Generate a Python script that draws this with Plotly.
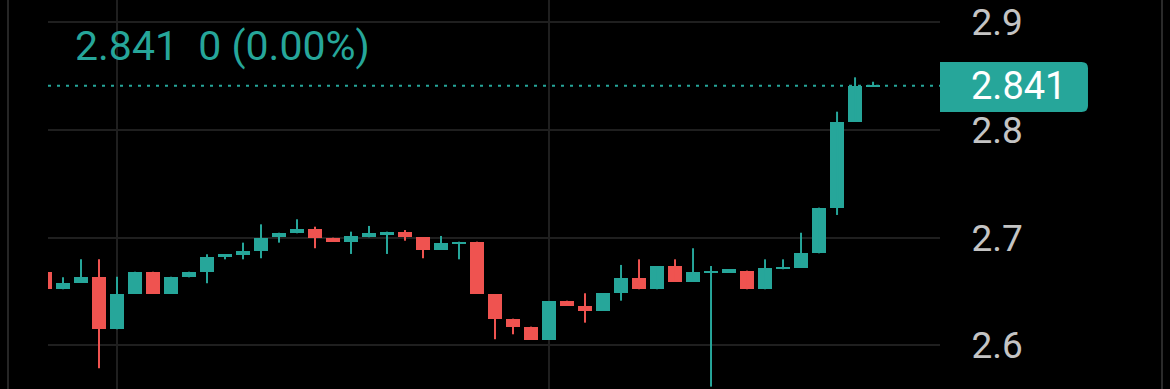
import plotly.graph_objects as go

# ---- data ----
opens = [2.6684, 2.6521, 2.6582, 2.6638, 2.6150, 2.6477, 2.6684, 2.6477, 2.6632, 2.6684,
         2.6818, 2.6839, 2.6877, 2.7004, 2.7041, 2.7078, 2.7000, 2.6963, 2.7004, 2.7025,
         2.7056, 2.7004, 2.6886, 2.6948, 2.6963, 2.6477, 2.6248, 2.6174, 2.6050, 2.6415,
         2.6366, 2.6322, 2.6484, 2.6629, 2.6521, 2.6737, 2.6591, 2.6676, 2.6676, 2.6694,
         2.6521, 2.6707, 2.6721, 2.6855, 2.7279, 2.8077, 2.8400]
highs = [2.6684, 2.6632, 2.6799, 2.6799, 2.6638, 2.6684, 2.6684, 2.6638, 2.6684, 2.6846,
         2.6846, 2.6954, 2.7124, 2.7046, 2.7171, 2.7102, 2.7000, 2.7056, 2.7109, 2.7056,
         2.7071, 2.7004, 2.7016, 2.6963, 2.6963, 2.6477, 2.6248, 2.6174, 2.6412, 2.6415,
         2.6484, 2.6484, 2.6747, 2.6799, 2.6737, 2.6799, 2.6902, 2.6737, 2.6707, 2.6694,
         2.6799, 2.6799, 2.7046, 2.7279, 2.8170, 2.8489, 2.8448]
lows = [2.6521, 2.6521, 2.6582, 2.5787, 2.6150, 2.6477, 2.6477, 2.6477, 2.6632, 2.6577,
        2.6799, 2.6799, 2.6809, 2.6954, 2.7041, 2.6902, 2.6963, 2.6849, 2.7004, 2.6849,
        2.6972, 2.6809, 2.6886, 2.6799, 2.6477, 2.6057, 2.6103, 2.6050, 2.6050, 2.6366,
        2.6211, 2.6322, 2.6415, 2.6521, 2.6521, 2.6591, 2.6591, 2.5617, 2.6676, 2.6521,
        2.6521, 2.6707, 2.6721, 2.6855, 2.7211, 2.8077, 2.8400]
closes = [2.6521, 2.6582, 2.6638, 2.6150, 2.6477, 2.6684, 2.6477, 2.6638, 2.6684, 2.6824,
          2.6846, 2.6877, 2.6994, 2.7046, 2.7078, 2.6994, 2.6963, 2.7016, 2.7041, 2.7056,
          2.7009, 2.6886, 2.6948, 2.6963, 2.6477, 2.6242, 2.6168, 2.6050, 2.6412, 2.6366,
          2.6322, 2.6484, 2.6629, 2.6521, 2.6737, 2.6591, 2.6680, 2.6694, 2.6707, 2.6521,
          2.6721, 2.6731, 2.6855, 2.7279, 2.8077, 2.8409, 2.8410]
last_price = 2.841
header_text = "2.841  0 (0.00%)"
y_ticks = [2.6, 2.7, 2.8, 2.9]
x_grid_positions = [4, 28]

UP = "#26a69a"
DOWN = "#ef5350"
GRID = "#1f1f1f"

idx = list(range(len(opens)))
colors = [UP if c >= o else DOWN for o, c in zip(opens, closes)]

fig = go.Figure()

# wicks
for col in (UP, DOWN):
    wx, wy = [], []
    for i in idx:
        if colors[i] == col:
            wx += [i, i, None]
            wy += [lows[i], highs[i], None]
    fig.add_trace(go.Scatter(x=wx, y=wy, mode="lines", line=dict(color=col, width=2),
                             hoverinfo="skip", showlegend=False))

# bodies
fig.add_trace(go.Bar(
    x=idx,
    y=[abs(c - o) for o, c in zip(opens, closes)],
    base=[min(o, c) for o, c in zip(opens, closes)],
    width=0.8,
    marker=dict(color=colors, line=dict(width=0)),
    showlegend=False,
))

# last price dotted line
fig.add_shape(type="line", xref="paper", yref="y", x0=0, x1=1, y0=last_price, y1=last_price,
              line=dict(color=UP, width=2, dash="3px,6px"))

# price label box (square left, rounded right)
rx, ry = 0.0072, 0.0058
x0, x1 = 1.0, 1.1659
y0, y1 = 2.8167, 2.8631
path = (f"M {x0},{y1} L {x1-rx},{y1} Q {x1},{y1} {x1},{y1-ry} "
        f"L {x1},{y0+ry} Q {x1},{y0} {x1-rx},{y0} L {x0},{y0} Z")
fig.add_shape(type="path", xref="paper", yref="y", path=path,
              fillcolor=UP, line=dict(width=0), layer="above")
fig.add_annotation(xref="paper", yref="y", x=1.033, y=last_price, text="2.841",
                   showarrow=False, xanchor="left", yanchor="middle",
                   font=dict(color="white", size=38, family="Roboto"))

# header
fig.add_annotation(xref="paper", yref="paper", x=0.028, y=1 - 46 / 389, text=header_text,
                   showarrow=False, xanchor="left", yanchor="middle",
                   font=dict(color=UP, size=41, family="Roboto"))

# separator lines at far left/right
fig.add_shape(type="line", xref="paper", yref="paper", x0=(8 - 48) / 892, x1=(8 - 48) / 892,
              y0=0, y1=1, line=dict(color="#262626", width=2))
fig.add_shape(type="line", xref="paper", yref="paper", x0=(1162 - 48) / 892, x1=(1162 - 48) / 892,
              y0=0, y1=1, line=dict(color="#2a2a2a", width=2))

fig.update_layout(
    width=1170, height=389,
    margin=dict(l=48, r=230, t=0, b=0),
    paper_bgcolor="black", plot_bgcolor="black",
    bargap=0,
    xaxis=dict(range=[0.1667, 49.72], tickvals=x_grid_positions, showticklabels=False,
               showgrid=True, gridcolor=GRID, gridwidth=2, zeroline=False, showline=False,
               fixedrange=True),
    yaxis=dict(range=[2.5595, 2.9207], side="right", tickvals=y_ticks,
               ticktext=[f"{v:.1f}" for v in y_ticks],
               showgrid=True, gridcolor=GRID, gridwidth=2, zeroline=False, showline=False,
               ticks="outside", ticklen=23, tickcolor="rgba(0,0,0,0)",
               tickfont=dict(color="#c4c4c4", size=37, family="Roboto")),
)

fig.write_html("out.html")
